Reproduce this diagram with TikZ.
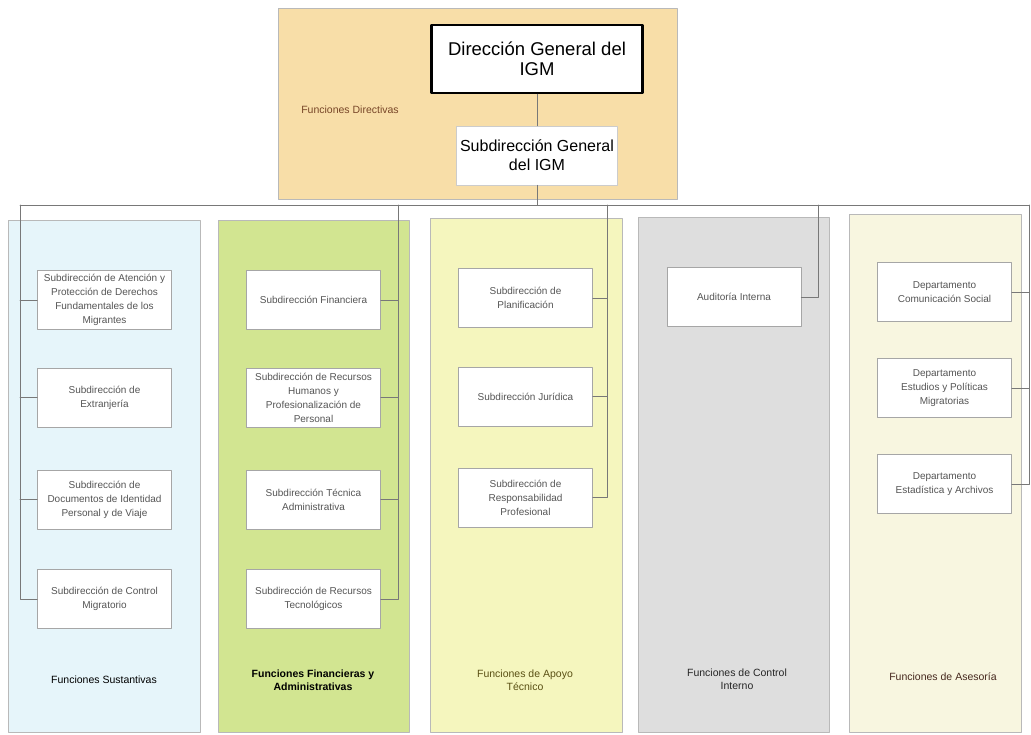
\documentclass[tikz,border=0pt]{standalone}
\usepackage{fontspec}
\setmainfont{Liberation Sans}

\definecolor{dirfill}{RGB}{248,222,168}
\definecolor{susfill}{RGB}{230,245,250}
\definecolor{finfill}{RGB}{210,229,145}
\definecolor{apofill}{RGB}{245,246,190}
\definecolor{confill}{RGB}{222,222,222}
\definecolor{asefill}{RGB}{248,246,224}
\definecolor{textgray}{RGB}{85,85,85}
\definecolor{linegray}{RGB}{120,120,120}
\definecolor{dirtext}{RGB}{120,70,40}
\definecolor{apotext}{RGB}{90,80,20}
\definecolor{asetext}{RGB}{70,40,30}

\begin{document}
\begin{tikzpicture}[x=1pt,y=-1pt,line cap=round,line join=round,
    unit/.style={draw=gray!70,line width=0.7pt,fill=white,minimum width=134pt,
      minimum height=59pt,align=center,text=textgray,inner sep=2pt,
      font=\fontsize{10}{14}\selectfont},
    link/.style={draw=linegray,line width=0.8pt},
    area/.style={draw=gray!55,line width=0.6pt},
    tag/.style={align=center,font=\fontsize{10.5}{13.5}\selectfont}]
      \path[use as bounding box] (0,0) rectangle (1031,734);

      % areas
      \draw[area,fill=dirfill] (278,8) rectangle (677,199);
      \draw[area,fill=susfill] (8,220) rectangle (200,732);
      \draw[area,fill=finfill] (218,220) rectangle (409,732);
      \draw[area,fill=apofill] (430,218) rectangle (622,732);
      \draw[area,fill=confill] (638,217) rectangle (829,732);
      \draw[area,fill=asefill] (849,214) rectangle (1021,732);

      \node[tag,text=dirtext] (ldir) at (350,110) {Funciones Directivas};
      \node[tag] (lsus) at (104,680) {Funciones Sustantivas};
      \node[tag,font=\fontsize{10.5}{13.5}\selectfont\bfseries] (lfin) at (313,680) {Funciones Financieras y\\Administrativas};
      \node[tag,text=apotext] (lapo) at (525,680) {Funciones de Apoyo\\Técnico};
      \node[tag,text=gray!30!black] (lcon) at (737,679) {Funciones de Control\\Interno};
      \node[tag,text=asetext] (lase) at (943,677) {Funciones de Asesoría};

      % direccion
      \node[draw=black,line width=2.5pt,fill=white,minimum width=211pt,minimum height=68pt,
        align=center,font=\fontsize{18.5}{19.5}\selectfont] (dg) at (537,59) {Dirección General del\\IGM};
      \node[draw=gray!40,line width=0.6pt,fill=white,minimum width=161pt,minimum height=59pt,
        align=center,font=\fontsize{16}{19}\selectfont] (sg) at (537,155.5) {Subdirección General\\del IGM};

      % units
      \node[unit] (s1) at (104.5,300) {Subdirección de Atención y\\Protección de Derechos\\Fundamentales de los\\Migrantes};
      \node[unit] (s2) at (104.5,397.5) {Subdirección de\\Extranjería};
      \node[unit] (s3) at (104.5,499.5) {Subdirección de\\Documentos de Identidad\\Personal y de Viaje};
      \node[unit] (s4) at (104.5,599) {Subdirección de Control\\Migratorio};

      \node[unit] (f1) at (313.5,300) {Subdirección Financiera};
      \node[unit] (f2) at (313.5,397.5) {Subdirección de Recursos\\Humanos y\\Profesionalización de\\Personal};
      \node[unit] (f3) at (313.5,499.5) {Subdirección Técnica\\Administrativa};
      \node[unit] (f4) at (313.5,599) {Subdirección de Recursos\\Tecnológicos};

      \node[unit] (a1) at (525.5,298) {Subdirección de\\Planificación};
      \node[unit] (a2) at (525.5,396.5) {Subdirección Jurídica};
      \node[unit] (a3) at (525.5,497.5) {Subdirección de\\Responsabilidad\\Profesional};

      \node[unit] (c1) at (734,297) {Auditoría Interna};

      \node[unit] (d1) at (944.5,292) {Departamento\\Comunicación Social};
      \node[unit] (d2) at (944.5,388) {Departamento\\Estudios y Políticas\\Migratorias};
      \node[unit] (d3) at (944.5,484) {Departamento\\Estadística y Archivos};

      % connectors
      \coordinate (bus) at (537,205);
      \coordinate (sus) at (20,205);
      \coordinate (fin) at (398,205);
      \coordinate (apo) at (607,205);
      \coordinate (con) at (818,205);
      \coordinate (ase) at (1029,205);

      \draw[link] (dg) -- (sg);
      \draw[link] (sg) -- (bus);
      \draw[link] (sus) -- (ase);

      \draw[link] (sus) |- (s4.west);
      \draw[link] (s1.west) -- (s1.west -| sus);
      \draw[link] (s2.west) -- (s2.west -| sus);
      \draw[link] (s3.west) -- (s3.west -| sus);

      \draw[link] (fin) |- (f4.east);
      \draw[link] (f1.east) -- (f1.east -| fin);
      \draw[link] (f2.east) -- (f2.east -| fin);
      \draw[link] (f3.east) -- (f3.east -| fin);

      \draw[link] (apo) |- (a3.east);
      \draw[link] (a1.east) -- (a1.east -| apo);
      \draw[link] (a2.east) -- (a2.east -| apo);

      \draw[link] (con) |- (c1.east);

      \draw[link] (ase) |- (d3.east);
      \draw[link] (d1.east) -- (d1.east -| ase);
      \draw[link] (d2.east) -- (d2.east -| ase);

    \end{tikzpicture}
\end{document}
